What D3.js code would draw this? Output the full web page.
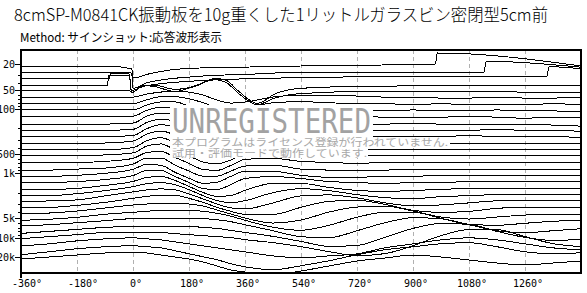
<!DOCTYPE html>
<html>
<head>
<meta charset="utf-8">
<script src="https://cdn.jsdelivr.net/npm/d3@7"></script>
<style>
  body { margin: 0; background: #fff; }
  svg { display: block; }
</style>
</head>
<body>
<script>
// texts
var title = "8cmSP-M0841CK振動板を10g重くした1リットルガラスビン密閉型5cm前";
var method = "Method: サインショット:応答波形表示";

// axis ticks
var phaseTicks = [-360, -180, 0, 180, 360, 540, 720, 900, 1080, 1260];
var freqTicks = [20, 50, 100, 500, 1000, 5000, 10000, 20000];
var freqTickText = ["20", "50", "100", "500", "1k", "5k", "10k", "20k"];

// one trace per 1/3 octave
var freqs = [20, 25, 31.5, 40, 50, 63, 80, 100, 125, 160, 200, 250, 315, 400, 500, 630,
             800, 1000, 1250, 1600, 2000, 2500, 3150, 4000, 5000, 6300, 8000, 10000, 12500, 16000, 20000];

// lowest traces, read as [phase, amplitude] pairs
var low20 = [[-360,-2],[-80,-2],[-20,-4],[-4,-5],[0,-14],[50,-10],[120,-6],[215,-4],[375,-3],[540,-2],[800,-1],[972,0],[978,11],[1440,-2]];
var low25 = [[-360,-2],[-12,-2],[-4,-4],[0,-18],[50,-12],[215,-6],[375,-4],[540,-2],[800,-2],[1128,-2],[1135,9],[1440,3]];
var low31 = [[-360,-2],[-76,-2],[-72,3],[-12,3],[-6,-14],[30,-10],[90,-7],[215,-4],[375,-2],[540,-1],[800,0],[1330,0],[1337,10],[1440,8]];
var low40 = [[-360,-2],[-82,-2],[-78,8],[-12,8],[-4,-9],[30,-3],[70,-2],[135,-6],[200,-3],[264,5],[300,3],[340,-8],[399,-20],[460,-10],[540,-5],[720,-3],[1080,-2],[1440,-2]];
var low50 = [[-360,-1],[-12,-1],[-2,-3],[30,4],[70,3],[135,-2],[200,4],[264,10],[300,7],[340,-4],[399,-15],[460,-8],[540,-4],[720,-2],[1080,-2],[1440,-3]];

// phases of the regular sampling
var phases = [-360,-270,-180,-90,0,45,90,135,180,225,270,315,360,450,540,630,720,810,900,990,1080,1170,1260,1350,1440];

// amplitude of each trace at those phases (63 Hz .. 20 kHz)
var resp = [
  [-1,-1,-1,-1,-1, 2, 4, 5, 4, 1,-4,-7,-6,-1, 1, 1, 0,-1,-1,-2,-2,-1,-2,-2,-1],
  [-1,-1,-1,-1,-1, 3, 6, 6, 4, 0,-5,-8,-6, 0, 1, 0,-1,-1,-2,-1,-2,-2,-2,-1,-2],
  [-1,-1,-1,-1,-1, 4, 7, 7, 3,-1,-6,-9,-6, 0, 1, 0,-1,-2,-1,-2,-2,-1,-2,-2,-3],
  [-1,-1,-1,-1,-1, 5, 8, 7, 3,-2,-7,-9,-5, 1, 1,-1,-1,-2,-2,-2,-1,-2,-3,-2,-2],
  [-2,-2,-2,-2,-1, 6, 9, 7, 2,-3,-8,-9,-4, 1, 0,-1,-2,-2,-1,-2,-2,-2,-2,-3,-4],
  [-2,-2,-2,-2,-1, 6, 9, 7, 1,-4,-9,-9,-3, 1, 0,-1,-2,-2,-2,-2,-2,-1,-2,-2,-3],
  [-2,-2,-2,-2,-1, 6,10, 7, 1,-5,-10,-8,-2, 2, 0,-2,-2,-2,-2,-2,-1,-2,-2,-2,-3],
  [-2,-2,-2,-2, 0, 7,10, 6, 0,-6,-10,-8,-2, 2, 0,-2,-2,-2,-2,-2,-2,-2,-2,-2,-3],
  [-2,-2,-2,-2, 0, 7,10, 5,-1,-7,-10,-7,-1, 2, 0,-2,-2,-2,-2,-2,-2,-2,-2,-2,-2],
  [-2,-2,-2,-1, 1, 8,10, 4,-2,-8,-10,-6, 0, 2,-1,-2,-2,-2,-2,-2,-2,-2,-2,-2,-2],
  [-2,-2,-2,-1, 2, 8, 9, 3,-3,-9,-10,-5, 1, 2,-1,-2,-3,-2,-2,-2,-2,-2,-2,-2,-2],
  [-3,-3,-2,-1, 3, 9, 9, 2,-4,-9,-9,-4, 1, 2,-2,-3,-3,-3,-2,-2,-2,-2,-2,-2,-2],
  [-3,-3,-2, 0, 4, 9, 8, 1,-5,-10,-9,-3, 2, 2,-2,-4,-4,-3,-3,-2,-2,-2,-2,-2,-2],
  [-3,-3,-2, 0, 4, 9, 9, 3,-3,-9,-10,-5, 1, 3, 1,-2,-3,-4,-3,-3,-2,-2,-2,-2,-2],
  [-3,-3,-2, 1, 5, 9,10, 6, 0,-6,-10,-9,-4, 3, 3,-1,-4,-5,-4,-3,-2,-2,-2,-2,-2],
  [-3,-3,-1, 2, 6, 9,10, 8, 3,-3,-8,-10,-8, 0, 4, 2,-2,-5,-6,-4,-3,-2,-2,-2,-2],
  [-3,-2,-1, 3, 7, 9,10, 9, 5, 0,-5,-9,-10,-4, 3, 4, 1,-4,-7,-6,-4,-2,-2,-2,-2],
  [-2,-2, 0, 3, 7, 9,10,10, 7, 3,-2,-6,-9,-9,-2, 4, 5, 1,-5,-7,-6,-3,-2,-2,-2],
  [-2,-1, 1, 4, 7, 8, 9, 9, 8, 6, 2,-2,-6,-11,-8, 0, 5, 6, 1,-5,-7,-5,-3,-2,-2],
  [-2,-1, 1, 4, 6, 7, 8, 8, 8, 7, 5, 2,-2,-9,-12,-7, 1, 6, 6, 0,-6,-7,-5,-3,-2],
  [-1, 0, 2, 4, 6, 6, 6, 6, 6, 6, 5, 3, 0,-6,-12,-13,-6, 2, 7, 6, 0,-6,-8,-6,-4],
  [-2, 0, 2, 4, 5, 5, 5, 5, 5, 4, 3, 1,-1,-5,-10,-15,-14,-6, 3, 8, 7, 0,-6,-9,-8],
  [-1, 1, 3, 5, 5, 5, 5, 4, 3, 2, 1, 0,-2,-5,-9,-14,-18,-16,-8, 2, 8, 8, 1,-6,-9],
  [-2, 0, 3, 5, 6, 5, 4, 2, 0,-2,-4,-6,-8,-12,-14,-12,-10,-4, 0, 4, 6, 4, 0,-4,-6],
  [-4,-1, 2, 4, 5, 4, 3, 0,-3,-6,-9,-13,-16,-19,-15,-10,-4, 1, 4, 7, 8, 4,-1,-3,-2],
  [-2, 0, 2, 4, 5, 4, 2, 0,-2,-5,-9,-13,-15,-18,-14,-9,-4,-1, 2, 0,-3,-6,-8,-6,-4]
];

var width = 587, height = 293;
var plot = {left: 21, right: 581, top: 50, bottom: 273};

var x = d3.scaleLinear().domain([-360, 1440]).range([plot.left, plot.right]);
var y = d3.scaleLog().domain([20, 20000]).range([64, 257]);
var amp = d3.scaleLinear().domain([0, 1]).range([0, -1]);

var svg = d3.select("body").append("svg")
    .attr("width", width)
    .attr("height", height);

// header
svg.append("text")
    .attr("x", 14).attr("y", 21)
    .attr("textLength", 534).attr("lengthAdjust", "spacingAndGlyphs")
    .style("font-family", "'Noto Sans CJK JP'")
    .style("font-weight", 300)
    .style("font-size", "17px")
    .text(title);

svg.append("text")
    .attr("x", 20).attr("y", 42)
    .attr("textLength", 202).attr("lengthAdjust", "spacingAndGlyphs")
    .style("font-family", "'Noto Sans CJK JP'")
    .style("font-size", "12px")
    .text(method);

// dashed phase grid
svg.append("g").selectAll("line")
    .data(phaseTicks.slice(1))
    .join("line")
    .attr("x1", d => x(d)).attr("x2", d => x(d))
    .attr("y1", plot.top).attr("y2", plot.bottom)
    .attr("stroke", "#b0b0b0")
    .attr("stroke-dasharray", "4,3")
    .attr("shape-rendering", "crispEdges");

// traces
var traces = [low20, low25, low31, low40, low50].concat(resp.map(function(r) {
    return r.map(function(v, i) { return [phases[i], v]; });
}));

svg.append("clipPath").attr("id", "plotclip")
  .append("rect")
    .attr("x", plot.left).attr("y", plot.top)
    .attr("width", plot.right - plot.left).attr("height", plot.bottom - plot.top);

var g = svg.append("g").attr("clip-path", "url(#plotclip)");

traces.forEach(function(tr, k) {
    var line = d3.line()
        .x(function(d) { return x(d[0]); })
        .y(function(d) { return y(freqs[k]) + amp(d[1]); })
        .curve(d3.curveMonotoneX);
    g.append("path")
        .datum(tr)
        .attr("d", line)
        .attr("fill", "none")
        .attr("stroke", "#000")
        .attr("stroke-width", 1)
        .attr("shape-rendering", "crispEdges");
});

// watermark
var wm = svg.append("g");
wm.append("rect").attr("x", 170).attr("y", 105).attr("width", 203).attr("height", 32).attr("fill", "#fff");
wm.append("rect").attr("x", 170).attr("y", 137).attr("width", 280).attr("height", 10).attr("fill", "#fff");
wm.append("rect").attr("x", 170).attr("y", 147).attr("width", 198).attr("height", 11).attr("fill", "#fff");
wm.append("text")
    .attr("x", 172).attr("y", 133)
    .attr("textLength", 199).attr("lengthAdjust", "spacingAndGlyphs")
    .style("font-family", "'DejaVu Sans Mono'")
    .style("font-size", "33px")
    .attr("fill", "#a2a2a2")
    .text("UNREGISTERED");
wm.append("text")
    .attr("x", 172).attr("y", 145.5)
    .attr("textLength", 276).attr("lengthAdjust", "spacingAndGlyphs")
    .style("font-family", "'Noto Sans CJK JP'")
    .style("font-size", "10px")
    .attr("fill", "#a8a8a8")
    .text("本プログラムはライセンス登録が行われていません.");
wm.append("text")
    .attr("x", 172).attr("y", 156.5)
    .attr("textLength", 195).attr("lengthAdjust", "spacingAndGlyphs")
    .style("font-family", "'Noto Sans CJK JP'")
    .style("font-size", "10px")
    .attr("fill", "#a8a8a8")
    .text("試用・評価モードで動作しています.");

// frame
svg.append("rect")
    .attr("x", plot.left).attr("y", plot.top)
    .attr("width", plot.right - plot.left).attr("height", plot.bottom - plot.top)
    .attr("fill", "none").attr("stroke", "#000").attr("stroke-width", 2)
    .attr("shape-rendering", "crispEdges");

// frequency axis
var minor = [];
[10, 100, 1000, 10000].forEach(function(dec) {
    for (var m = 1; m < 10; m++) {
        var f = dec * m;
        if (f >= 20 && f <= 20000 && freqTicks.indexOf(f) < 0) minor.push(f);
    }
});
svg.append("g").selectAll("line")
    .data(minor)
    .join("line")
    .attr("x1", plot.left - 3).attr("x2", plot.left)
    .attr("y1", d => Math.round(y(d)) + 0.5).attr("y2", d => Math.round(y(d)) + 0.5)
    .attr("stroke", "#000");
svg.append("g").selectAll("line")
    .data(freqTicks)
    .join("line")
    .attr("x1", plot.left - 6).attr("x2", plot.left)
    .attr("y1", d => Math.round(y(d)) + 0.5).attr("y2", d => Math.round(y(d)) + 0.5)
    .attr("stroke", "#000");
svg.append("g").selectAll("text")
    .data(freqTicks)
    .join("text")
    .attr("x", 15).attr("y", d => y(d) + 4)
    .attr("text-anchor", "end")
    .style("font-family", "'DejaVu Sans Mono'")
    .style("font-size", "10px")
    .text((d, i) => freqTickText[i]);

// phase axis labels: digits centred on the tick, sign and degree mark outside
svg.append("line")
    .attr("x1", plot.left).attr("x2", plot.left)
    .attr("y1", plot.bottom).attr("y2", plot.bottom + 5)
    .attr("stroke", "#000").attr("stroke-width", 2);
svg.append("g").selectAll("text")
    .data(phaseTicks)
    .join("text")
    .attr("x", d => x(d) - 3 * String(Math.abs(d)).length)
    .attr("y", 287)
    .attr("text-anchor", "start")
    .style("font-family", "'DejaVu Sans Mono'")
    .style("font-size", "10px")
    .text(d => d + "°");
</script>
</body>
</html>
